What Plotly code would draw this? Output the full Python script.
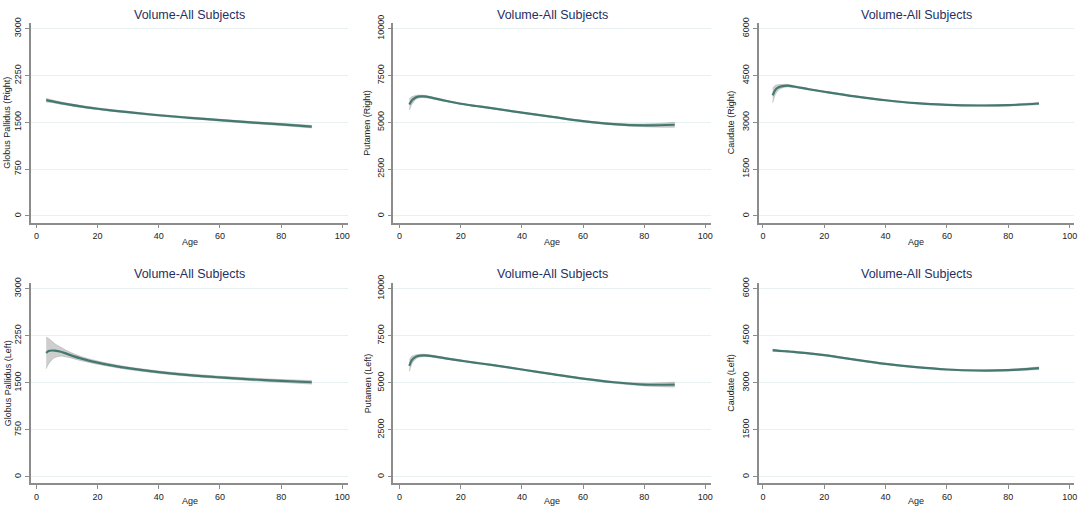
import plotly.graph_objects as go
from plotly.subplots import make_subplots

# ---------------- data ----------------
ages = [3.2, 4, 5, 6, 8, 10, 15, 20, 25, 30, 40, 50, 60, 70, 80, 90]

gp_right = [1855, 1848, 1838, 1828, 1808, 1790, 1750, 1717, 1688, 1662, 1613, 1572, 1534, 1498, 1466, 1430]
gp_right_ci = [30, 25, 22, 20, 18, 16, 14, 14, 13, 13, 13, 13, 14, 15, 17, 20]

put_right = [5950, 6160, 6300, 6370, 6380, 6330, 6150, 5990, 5870, 5759, 5514, 5287, 5061, 4904, 4834, 4869]
put_right_ci = [300, 200, 120, 80, 60, 50, 40, 35, 32, 30, 30, 30, 35, 45, 70, 130]

caud_right = [3860, 4031, 4115, 4150, 4175, 4146, 4060, 3979, 3905, 3832, 3706, 3612, 3560, 3539, 3549, 3602]
caud_right_ci = [230, 150, 90, 60, 40, 30, 22, 20, 19, 18, 18, 18, 18, 20, 25, 35]

gp_left = [1975, 2005, 2014, 2012, 1995, 1960, 1880, 1821, 1773, 1732, 1669, 1622, 1586, 1555, 1529, 1508]
gp_left_ci = [250, 200, 150, 110, 70, 50, 32, 25, 22, 20, 18, 18, 18, 20, 22, 28]

put_left = [5900, 6208, 6347, 6420, 6452, 6430, 6300, 6173, 6060, 5948, 5704, 5461, 5217, 5026, 4904, 4904]
put_left_ci = [300, 200, 120, 80, 60, 50, 40, 35, 32, 30, 30, 30, 35, 45, 70, 130]

caud_left = [4040, 4030, 4020, 4012, 4000, 3986, 3935, 3882, 3810, 3736, 3600, 3496, 3423, 3391, 3402, 3464]
caud_left_ci = [35, 30, 28, 26, 24, 22, 20, 20, 19, 18, 18, 18, 18, 20, 25, 40]

panel_title = "Volume-All Subjects"
x_title = "Age"
y_titles = ["Globus Pallidus (Right)", "Putamen (Right)", "Caudate (Right)",
            "Globus Pallidus (Left)", "Putamen (Left)", "Caudate (Left)"]
x_ticks = [0, 20, 40, 60, 80, 100]
gp_ticks = [0, 750, 1500, 2250, 3000]
put_ticks = [0, 2500, 5000, 7500, 10000]
caud_ticks = [0, 1500, 3000, 4500, 6000]

series = [
    (gp_right, gp_right_ci, gp_ticks),
    (put_right, put_right_ci, put_ticks),
    (caud_right, caud_right_ci, caud_ticks),
    (gp_left, gp_left_ci, gp_ticks),
    (put_left, put_left_ci, put_ticks),
    (caud_left, caud_left_ci, caud_ticks),
]

# ---------------- layout geometry (pixels) ----------------
W, H = 1080, 508
cols_geom = [
    (36.5, 3.068, (-1.9, 102.0)),
    (400.7, 3.066, (-2.0, 102.0)),
    (765.0, 3.077, (-1.4, 101.5)),
]
rows_geom = [(210.7, 20.0), (476.3, 284.7)]
ylo_f, yhi_f = -0.035, 0.028

LINE_COLOR = "#44796f"
BAND_COLOR = "rgba(165,165,165,0.55)"
AXIS_COLOR = "#8c8c8c"
GRID_COLOR = "#e8f1f2"
TITLE_COLOR = "#1f2f5f"
FONT = "Liberation Sans, Arial, sans-serif"

fig = make_subplots(rows=2, cols=3)

annotations = []
for i, (vals, ci, yt) in enumerate(series):
    r, c = divmod(i, 3)
    lo = [v - e for v, e in zip(vals, ci)]
    hi = [v + e for v, e in zip(vals, ci)]
    fig.add_trace(go.Scatter(x=ages, y=lo, mode="lines",
                             line=dict(width=0.8, color="rgba(170,170,170,0.7)", shape="spline"),
                             showlegend=False, hoverinfo="skip"), row=r + 1, col=c + 1)
    fig.add_trace(go.Scatter(x=ages, y=hi, mode="lines",
                             line=dict(width=0.8, color="rgba(170,170,170,0.7)", shape="spline"),
                             fill="tonexty", fillcolor=BAND_COLOR,
                             showlegend=False, hoverinfo="skip"), row=r + 1, col=c + 1)
    fig.add_trace(go.Scatter(x=ages, y=vals, mode="lines",
                             line=dict(color=LINE_COLOR, width=2.2, shape="spline"),
                             showlegend=False), row=r + 1, col=c + 1)

    px0, s, (xr0, xr1) = cols_geom[c]
    left_px = px0 + xr0 * s
    right_px = px0 + xr1 * s
    y0px, ympx = rows_geom[r]
    span = y0px - ympx
    ymax = yt[-1]
    bot_px = y0px - ylo_f * span
    top_px = ympx - yhi_f * span

    idx = i + 1
    xa = "xaxis" if idx == 1 else f"xaxis{idx}"
    ya = "yaxis" if idx == 1 else f"yaxis{idx}"
    fig.layout[xa].update(
        domain=[left_px / W, right_px / W], range=[xr0, xr1],
        tickvals=x_ticks, ticktext=[str(t) for t in x_ticks],
        ticks="outside", ticklen=4, tickcolor=AXIS_COLOR, tickwidth=1,
        showline=True, linecolor=AXIS_COLOR, linewidth=1.5,
        showgrid=False, zeroline=False,
        tickfont=dict(family=FONT, size=9, color="#222222"),
    )
    fig.layout[ya].update(
        domain=[1 - bot_px / H, 1 - top_px / H],
        range=[ylo_f * ymax, (1 + yhi_f) * ymax],
        tickvals=yt, ticktext=[str(t) for t in yt],
        ticks="outside", ticklen=4, tickcolor=AXIS_COLOR, tickwidth=1,
        tickangle=-90,
        showline=True, linecolor=AXIS_COLOR, linewidth=1.5,
        showgrid=True, gridcolor=GRID_COLOR, gridwidth=1, zeroline=False,
        tickfont=dict(family=FONT, size=9, color="#222222"),
    )

    cx = (left_px + right_px) / 2
    title_y = 6 if r == 0 else 270
    annotations.append(dict(text=panel_title, x=cx / W, y=1 - title_y / H, xref="paper", yref="paper",
                            xanchor="center", yanchor="middle", showarrow=False,
                            font=dict(family=FONT, size=12.5, color=TITLE_COLOR)))
    age_y = 237 if r == 0 else 501
    annotations.append(dict(text=x_title, x=cx / W, y=1 - age_y / H, xref="paper", yref="paper",
                            xanchor="center", yanchor="middle", showarrow=False,
                            font=dict(family=FONT, size=9, color="#222222")))
    ytx = [7.5, 368.5, 733.0][c]
    annotations.append(dict(text=y_titles[i], x=ytx / W, y=1 - ((y0px + ympx) / 2) / H,
                            xref="paper", yref="paper", textangle=-90,
                            xanchor="center", yanchor="middle", showarrow=False,
                            font=dict(family=FONT, size=9, color="#222222")))

fig.update_layout(
    width=W, height=H, margin=dict(l=0, r=0, t=0, b=0),
    paper_bgcolor="white", plot_bgcolor="white",
    annotations=annotations, showlegend=False,
)

fig.write_html(
    "out.html",
    config={"displayModeBar": False},
    post_script="document.body.style.margin='0px';document.body.style.overflow='hidden';",
)
